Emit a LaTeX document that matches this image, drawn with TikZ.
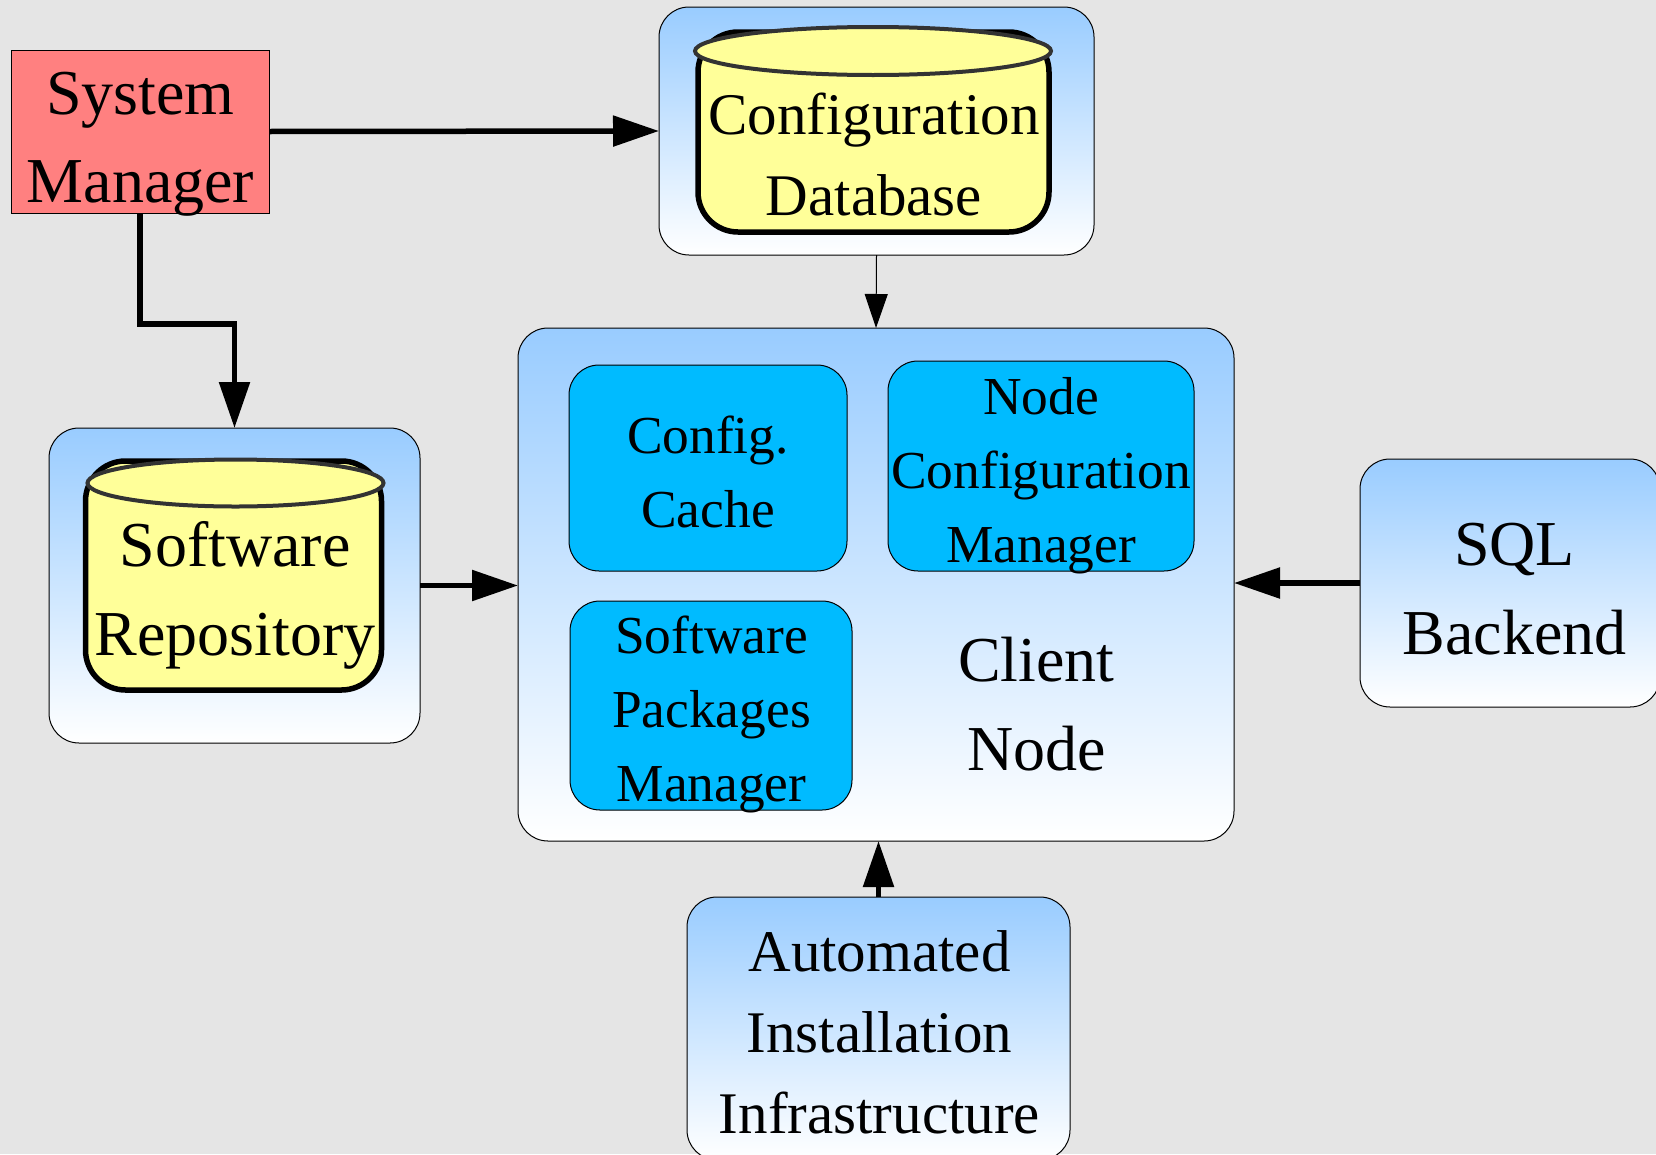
\documentclass[tikz,border=0pt]{standalone}
\usepackage{fontspec}
\setmainfont{Liberation Serif}
\usetikzlibrary{arrows.meta,shapes.geometric}
\definecolor{bgc}{HTML}{E5E5E5}
\definecolor{topblue}{HTML}{99CCFF}
\definecolor{inner}{HTML}{00BBFF}
\definecolor{sysred}{HTML}{FF8080}
\definecolor{cyl}{HTML}{FFFF99}
\tikzset{
  base/.style={outer sep=0pt,inner sep=0pt,align=center,text=black},
  outerbox/.style={base,draw=black,line width=1pt,rounded corners=30pt,top color=topblue,bottom color=white},
  innerbox/.style={base,draw=black,line width=1pt,rounded corners=30pt,fill=inner},
  sysbox/.style={base,draw=black,line width=1pt,fill=sysred},
  cylbody/.style={base,draw=black,line width=5.5pt,rounded corners=40pt,fill=cyl},
  cyltop/.style={base,ellipse,draw=black!80,line width=4pt,fill=cyl},
  labelbig/.style={base,font=\fontsize{64}{88.5}\selectfont},
  labelmid/.style={base,font=\fontsize{59}{81}\selectfont},
  labelsmall/.style={base,font=\fontsize{53.4}{74}\selectfont},
  thickarrow/.style={line width=5.5pt,-{Triangle[length=46pt,width=30pt]}},
  thinarrow/.style={line width=1pt,-{Triangle[length=34pt,width=23pt]}},
}
\begin{document}
\begin{tikzpicture}[x=1pt,y=-1pt]
\useasboundingbox (0,0) rectangle (1656,1154);
\clip (0,0) rectangle (1656,1154);
\fill[bgc] (0,0) rectangle (1656,1154);
% system manager
\node[sysbox,minimum width=258pt,minimum height=163pt] (sys) at (140,131.5) {};
\node[labelbig,font=\fontsize{64}{87.5}\selectfont] (systext) at (140.5,144) {System\\Manager};
% configuration database
\node[outerbox,minimum width=435pt,minimum height=248pt] (db) at (876.5,131) {};
\node[cylbody,minimum width=351pt,minimum height=200pt] (dbcyl) at (873.5,132) {};
\node[cyltop,minimum width=356pt,minimum height=48pt] (dbtop) at (873,51) {};
\node[labelmid] (dbtext) at (874,155) {Configuration\\Database};
% software repository
\node[outerbox,minimum width=371pt,minimum height=315pt] (soft) at (234.5,585.5) {};
\node[cylbody,minimum width=296pt,minimum height=229pt] (softcyl) at (233.5,575.5) {};
\node[cyltop,minimum width=296pt,minimum height=47pt] (softtop) at (235.5,483) {};
\node[labelbig] (softtext) at (235,595.5) {Software\\Repository};
% client node
\node[outerbox,minimum width=716pt,minimum height=513pt] (client) at (876,584.5) {};
\node[innerbox,minimum width=278pt,minimum height=206pt] (cache) at (708,468) {};
\node[labelsmall] (cachetext) at (708,472) {Config.\\Cache};
\node[innerbox,minimum width=306pt,minimum height=210pt] (ncm) at (1041,466) {};
\node[labelsmall] (ncmtext) at (1041,475.5) {Node\\Configuration\\Manager};
\node[innerbox,minimum width=282pt,minimum height=209pt] (spm) at (711,705.5) {};
\node[labelsmall] (spmtext) at (711.5,714.5) {Software\\Packages\\Manager};
\node[labelbig] (clienttext) at (1036.5,704) {Client\\Node};
% SQL backend
\node[outerbox,minimum width=300pt,minimum height=248pt] (sql) at (1510,583) {};
\node[labelbig] (sqltext) at (1514.5,589) {SQL\\Backend};
% automated installation
\node[outerbox,minimum width=383pt,minimum height=263pt] (auto) at (878.5,1028.5) {};
\node[labelmid] (autotext) at (879.5,1032.5) {Automated\\Installation\\Infrastructure};
% connectors
\coordinate (elbowa) at (140,324);
\coordinate (elbowb) at (234.5,324);
\draw[thickarrow] (sys.east) -- (db.west);
\draw[thickarrow] (sys.south) -- (elbowa) -- (elbowb) -- (soft.north);
\draw[thinarrow] (db.south) -- (client.north);
\draw[thickarrow] (soft.east) -- (client.west |- soft.east);
\draw[thickarrow] (sql.west) -- (client.east |- sql.west);
\draw[thickarrow] (auto.north) -- (auto.north |- client.south);
\end{tikzpicture}
\end{document}
